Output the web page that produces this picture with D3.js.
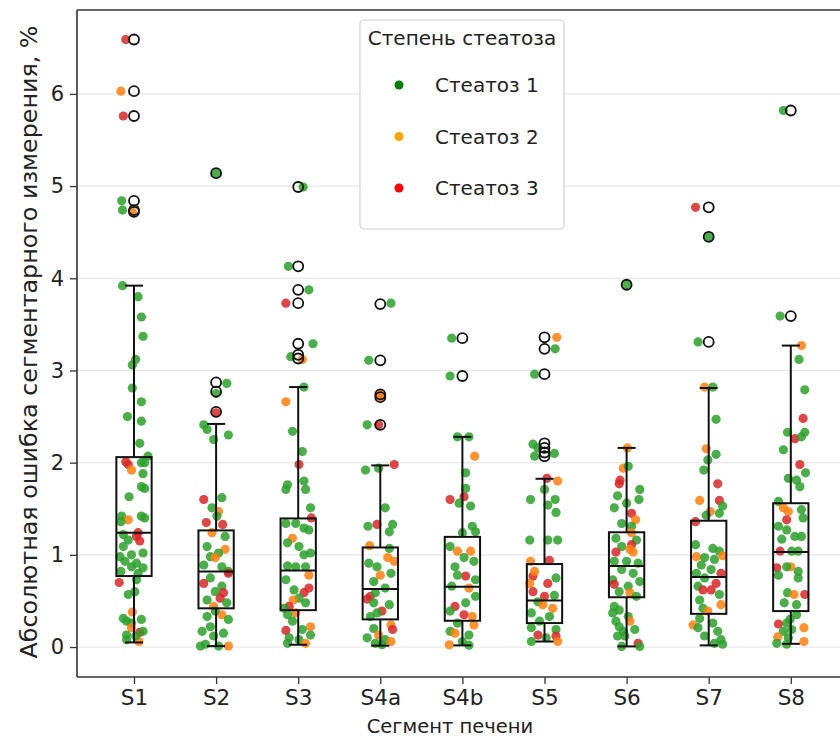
<!DOCTYPE html>
<html><head><meta charset="utf-8">
<script src="https://cdn.jsdelivr.net/npm/d3@7"></script>
<style>
html,body{margin:0;padding:0;background:#fff;}
svg text{font-family:"DejaVu Sans",sans-serif;fill:#222;}
</style></head>
<body><svg id="chart" width="840" height="740"></svg>
<script>
// ---------- DATA ----------
const segments = ["S1","S2","S3","S4a","S4b","S5","S6","S7","S8"];
const grades = ["Стеатоз 1","Стеатоз 2","Стеатоз 3"];
const yTicks = [0,1,2,3,4,5,6];

const q1      = [0.77,0.42,0.40,0.30,0.285,0.26,0.54,0.36,0.39];
const medians = [1.24,0.82,0.83,0.63,0.655,0.505,0.88,0.76,1.03];
const q3      = [2.06,1.265,1.395,1.08,1.195,0.90,1.245,1.37,1.56];
const whiskLo = [0.05,0.01,0.025,0.015,0.018,0.06,0.007,0.018,0.035];
const whiskHi = [3.92,2.42,2.82,1.97,2.28,1.825,2.16,2.81,3.27];

const outliers = [
  [6.59,6.03,5.76,4.84,4.74,4.72],
  [5.14,2.87,2.77,2.55],
  [4.99,4.13,3.875,3.73,3.29,3.17,3.13],
  [3.72,3.11,2.74,2.71,2.41],
  [3.35,2.94],
  [3.36,3.235,2.96,2.21,2.16,2.11,2.07],
  [3.93],
  [4.77,4.45,3.31],
  [5.82,3.59]
];

// points: [value, jitter (fraction of category step), steatosis grade]
const pointsS1 = [[6.59,-0.10,3],[6.03,-0.16,2],[5.76,-0.13,3],[4.84,-0.15,1],[4.74,-0.14,1],[4.72,-0.02,2],
 [3.92,-0.14,1],[3.80,0.05,1],[3.58,0.09,1],[3.37,0.11,1],[3.12,0.02,1],[3.06,-0.02,1],[2.81,-0.02,1],[2.66,0.09,1],
 [2.50,-0.08,1],[2.45,0.09,1],[2.21,0.07,1],[2.07,0.17,1],[2.01,-0.10,3],[1.98,-0.07,3],[1.92,-0.03,2],[2.00,0.09,1],
 [2.00,0.13,1],[1.88,0.11,1],[1.74,0.09,1],[1.72,0.13,1],[1.63,-0.06,1],[1.42,-0.15,1],[1.42,0.09,1],[1.40,0.13,1],
 [1.38,-0.07,2],[1.36,-0.16,1],[1.24,0.05,3],[1.20,0.03,3],[1.15,0.07,3],[1.22,-0.13,1],[1.16,-0.07,1],[1.09,-0.13,1],
 [1.02,0.11,1],[1.00,-0.03,1],[0.98,-0.17,1],[0.93,-0.11,1],[0.91,0.03,1],[0.87,-0.03,1],[0.86,0.11,1],[0.82,-0.16,1],
 [0.80,0.05,1],[0.70,-0.18,3],[0.73,0.03,1],[0.60,0.01,1],[0.57,-0.07,1],[0.38,-0.02,2],[0.31,-0.13,1],[0.30,0.09,1],
 [0.28,-0.09,1],[0.26,-0.03,1],[0.21,-0.03,2],[0.16,0.07,3],[0.17,0.11,1],[0.13,-0.09,1],[0.06,0.06,2],[0.08,-0.09,1],[0.12,0.02,1]];
const pointsS2 = [[5.14,0,1],[2.86,0.13,1],[2.75,0,1],[2.54,0,3],[2.41,-0.15,1],[2.36,-0.11,1],[2.30,0.15,1],[2.25,-0.03,1],
 [1.60,-0.15,3],[1.62,0.07,1],[1.51,-0.05,1],[1.47,0.03,2],[1.42,0.01,1],[1.35,-0.12,3],[1.33,0.08,3],[1.24,-0.05,2],
 [1.20,0.11,1],[1.09,-0.11,1],[1.06,0.11,2],[1.02,0.03,1],[0.98,-0.07,1],[0.97,-0.01,2],[0.89,-0.15,1],[0.87,0.07,1],
 [0.82,0.15,1],[0.80,0.15,3],[0.75,-0.07,1],[0.69,-0.15,3],[0.66,0.07,1],[0.60,-0.01,1],[0.59,0.09,3],[0.53,0.05,3],
 [0.51,-0.11,1],[0.48,0.13,1],[0.44,-0.03,2],[0.35,0.07,2],[0.39,-0.01,1],[0.33,-0.11,1],[0.30,0.15,1],[0.22,-0.07,1],
 [0.17,-0.17,1],[0.15,0.09,1],[0.12,-0.03,1],[0.03,-0.13,1],[0.01,0.03,1],[0.01,0.15,2],[0.01,-0.19,1]];
const pointsS3 = [[4.99,0.06,1],[4.13,-0.12,1],[3.875,0.13,1],[3.73,-0.15,3],[3.29,0.18,1],[3.15,-0.09,1],[3.12,0.05,2],
 [2.82,0.07,1],[2.66,-0.15,2],[2.34,-0.07,1],[2.12,0.05,1],[1.98,0.01,3],[1.76,-0.13,1],[1.71,-0.15,1],[1.80,0.07,1],
 [1.71,0.09,1],[1.51,0.15,1],[1.40,0.16,3],[1.34,-0.15,1],[1.34,-0.03,1],[1.29,0.07,1],[1.27,0.13,1],[1.18,-0.07,2],
 [1.13,-0.13,1],[1.09,0.01,1],[1.00,0.07,1],[1.02,0.15,1],[0.88,-0.13,1],[0.87,-0.03,1],[0.87,0.09,1],[0.78,0.13,2],
 [0.73,-0.15,1],[0.64,0.13,3],[0.59,0.07,3],[0.62,-0.05,1],[0.53,0.01,1],[0.51,-0.06,2],[0.44,-0.11,3],[0.48,0.09,1],
 [0.42,-0.17,1],[0.37,-0.03,2],[0.35,-0.13,1],[0.28,-0.07,1],[0.22,0.15,2],[0.18,-0.15,3],[0.19,0.05,1],[0.13,0.15,1],
 [0.10,-0.11,1],[0.08,0.01,1],[0.04,-0.13,1],[0.04,0.09,2]];
const pointsS4a = [[3.73,0.13,1],[3.11,-0.14,1],[2.74,0,2],[2.71,0,2],[2.41,-0.16,1],[2.41,-0.02,3],[1.98,0.17,3],
 [1.92,-0.18,1],[1.94,-0.02,1],[1.51,0.06,1],[1.33,-0.04,3],[1.31,-0.15,1],[1.33,0.15,1],[1.25,0.11,1],[1.10,-0.13,2],
 [1.07,0.11,1],[0.97,0.09,2],[0.93,0.17,2],[0.91,-0.14,1],[0.87,-0.04,1],[0.78,0,2],[0.80,0.13,1],[0.71,-0.08,1],
 [0.64,0.06,1],[0.55,-0.12,3],[0.52,-0.16,3],[0.59,-0.06,1],[0.48,-0.08,1],[0.39,0.02,3],[0.46,0.11,1],[0.37,-0.04,1],
 [0.33,-0.12,1],[0.24,0.13,2],[0.19,0.15,3],[0.20,-0.08,1],[0.13,-0.02,2],[0.10,-0.16,1],[0.08,0.06,1],[0.06,0.13,2],
 [0.04,-0.06,1],[0.025,0.02,1]];
const pointsS4b = [[3.35,-0.13,1],[2.94,-0.15,1],[2.28,-0.06,1],[2.28,0.08,1],[2.07,0.15,2],[1.89,0.04,1],[1.72,0.04,1],
 [1.60,-0.15,3],[1.63,0.02,3],[1.56,-0.04,1],[1.53,0.10,1],[1.31,0.12,1],[1.24,0,1],[1.25,0.16,1],[1.09,-0.15,1],
 [1.04,-0.06,2],[1.04,0.10,2],[0.97,0.02,1],[0.93,0.14,1],[0.87,-0.09,1],[0.77,0.04,3],[0.78,-0.06,1],[0.73,0.16,1],
 [0.66,-0.13,1],[0.64,0.08,2],[0.55,0.16,1],[0.44,-0.09,3],[0.48,0.04,1],[0.35,0.02,3],[0.33,0.12,2],[0.39,-0.15,1],
 [0.26,-0.06,1],[0.24,0.14,2],[0.17,-0.15,1],[0.15,-0.09,2],[0.13,0.08,1],[0.06,0,1],[0.025,-0.16,2],[0.02,0.08,1]];
const pointsS5 = [[3.36,0.15,2],[3.235,0.13,1],[2.96,-0.12,1],[2.20,-0.14,1],[2.16,-0.08,1],[2.10,0.12,1],[2.07,-0.12,1],
 [1.83,0.03,3],[1.80,0.16,2],[1.71,0,1],[1.60,-0.17,1],[1.60,0.13,1],[1.46,0.14,1],[1.54,0.04,1],[1.16,-0.18,1],
 [1.16,0.04,1],[1.16,0.16,1],[0.93,-0.17,2],[0.94,0.06,3],[0.77,-0.14,3],[0.82,-0.12,2],[0.75,0.14,1],[0.69,0.04,3],
 [0.69,-0.18,2],[0.60,-0.14,3],[0.55,0,3],[0.56,0.12,1],[0.49,-0.08,1],[0.46,-0.02,2],[0.42,0.10,2],[0.37,-0.16,1],
 [0.33,0.06,1],[0.28,-0.06,1],[0.21,-0.16,1],[0.19,0.14,1],[0.13,-0.08,3],[0.12,0.14,3],[0.10,0.02,1],[0.06,0.16,2],
 [0.06,-0.16,1]];
const pointsS6 = [[3.93,0,1],[2.16,0.01,2],[1.94,-0.04,2],[1.96,0.02,1],[1.81,-0.08,3],[1.77,-0.09,3],[1.71,0.16,1],
 [1.64,-0.11,1],[1.60,0.15,1],[1.56,0,1],[1.51,-0.15,1],[1.45,0.06,3],[1.38,0.11,2],[1.34,-0.06,1],[1.31,0.06,1],
 [1.24,0.06,2],[1.18,-0.13,1],[1.16,0.12,1],[1.11,0.06,3],[1.09,-0.06,1],[1.06,0.04,2],[1.03,-0.13,3],[1.03,0.08,2],
 [0.93,-0.15,1],[0.93,0,1],[0.91,0.14,1],[0.84,-0.06,1],[0.80,0.08,1],[0.73,-0.17,1],[0.71,0.16,1],[0.68,-0.15,3],
 [0.66,0.02,1],[0.60,-0.09,1],[0.59,0.04,2],[0.55,0.12,1],[0.44,-0.15,1],[0.40,-0.09,1],[0.37,-0.17,1],[0.33,0.02,1],
 [0.28,-0.13,1],[0.28,0.04,2],[0.22,-0.09,1],[0.19,0.10,1],[0.17,-0.04,1],[0.12,-0.11,1],[0.12,-0.02,1],[0.04,0.14,3],
 [0.007,-0.06,1],[0.007,0.16,1]];
const pointsS7 = [[4.77,-0.16,3],[4.45,0,1],[3.31,-0.13,1],[2.82,-0.05,2],[2.82,0.05,1],[2.47,0.09,1],[2.15,-0.03,2],
 [2.09,0.09,1],[2.03,-0.01,1],[1.92,-0.06,1],[1.77,0.11,3],[1.59,-0.11,2],[1.59,0.13,3],[1.53,0.17,1],[1.45,0.13,1],
 [1.47,0.02,2],[1.43,-0.03,1],[1.36,-0.16,3],[1.11,-0.16,1],[1.07,0.05,1],[1.04,0.13,1],[0.98,-0.15,2],[0.99,0.17,2],
 [0.97,-0.05,1],[0.95,0.07,1],[0.89,-0.09,1],[0.84,0.03,1],[0.80,-0.15,1],[0.80,0.15,3],[0.75,-0.05,1],[0.69,0.09,3],
 [0.66,-0.13,1],[0.62,-0.07,3],[0.62,0.03,3],[0.57,0.13,1],[0.51,-0.11,1],[0.46,0.15,2],[0.42,-0.07,1],[0.39,-0.01,2],
 [0.31,-0.11,1],[0.24,-0.19,2],[0.26,0.05,1],[0.21,-0.13,1],[0.17,0.11,1],[0.12,-0.05,1],[0.08,0.15,1],[0.04,0.07,1],
 [0.03,0.17,1]];
const pointsS8 = [[5.82,-0.09,1],[3.59,-0.13,1],[3.27,0.13,2],[3.12,0.10,1],[2.79,0.17,1],[2.48,0.15,3],[2.33,-0.04,1],
 [2.33,0.17,1],[2.26,0.05,3],[2.28,0.13,1],[2.14,-0.09,1],[1.98,0.11,3],[1.89,0.18,1],[1.83,-0.03,1],[1.81,0.07,1],
 [1.74,0.11,1],[1.58,-0.15,1],[1.51,-0.09,2],[1.47,-0.03,2],[1.49,0.13,1],[1.38,-0.05,3],[1.40,0.15,1],[1.31,-0.15,1],
 [1.27,-0.05,1],[1.20,0.05,1],[1.20,0.13,1],[1.17,-0.11,1],[1.04,0.01,1],[1.04,-0.13,3],[1.04,0.09,1],[0.86,-0.17,3],
 [0.87,0,2],[0.87,-0.05,1],[0.82,0.09,1],[0.75,0.09,1],[0.78,-0.15,1],[0.59,-0.04,1],[0.57,0.04,2],[0.57,0.17,3],
 [0.48,-0.08,1],[0.46,0.07,1],[0.35,0.07,1],[0.30,-0.01,1],[0.25,-0.15,3],[0.26,-0.05,1],[0.21,0.16,2],[0.19,0.01,1],
 [0.17,-0.09,1],[0.11,-0.16,2],[0.10,-0.03,1],[0.06,0.16,2],[0.04,-0.17,1],[0.03,-0.05,1]];
const pointsBySegment = [pointsS1,pointsS2,pointsS3,pointsS4a,pointsS4b,pointsS5,pointsS6,pointsS7,pointsS8];

// ---------- STYLE ----------
const pointColors = {1:"#2ca02c",2:"#ff7f0e",3:"#d62728"};
const legendColors = ["#008000","#ffa500","#ff0000"];

// ---------- DRAW ----------
const svg = d3.select("#chart");
const plot = {left:77, right:848, top:10, bottom:677};

const x = d3.scalePoint().domain(segments).range([134, 790.8]);
const step = x.step();
const y = d3.scaleLinear().domain([-0.325, 6.91]).range([plot.bottom, plot.top]);

// grid
svg.append("g").selectAll("line").data(yTicks).join("line")
  .attr("x1", plot.left).attr("x2", plot.right)
  .attr("y1", d=>y(d)).attr("y2", d=>y(d))
  .attr("stroke","#e8e8e8").attr("stroke-width",1.2);

// points
const allPts = [];
pointsBySegment.forEach((arr,i)=>arr.forEach(p=>allPts.push({seg:segments[i],v:p[0],j:p[1],g:p[2]})));
svg.append("g").selectAll("circle").data(allPts).join("circle")
  .attr("cx", d=>x(d.seg)+d.j*step)
  .attr("cy", d=>y(d.v))
  .attr("r", 4.6)
  .attr("fill", d=>pointColors[d.g])
  .attr("fill-opacity", 0.85);

// boxes
const boxW = 0.43*step, capW = 0.22*step;
const bx = svg.append("g").attr("stroke","#111").attr("stroke-width",2).attr("fill","none");
segments.forEach((s,i)=>{
  const cx = x(s);
  bx.append("line").attr("x1",cx).attr("x2",cx).attr("y1",y(q3[i])).attr("y2",y(whiskHi[i]));
  bx.append("line").attr("x1",cx).attr("x2",cx).attr("y1",y(q1[i])).attr("y2",y(whiskLo[i]));
  bx.append("line").attr("x1",cx-capW/2).attr("x2",cx+capW/2).attr("y1",y(whiskHi[i])).attr("y2",y(whiskHi[i]));
  bx.append("line").attr("x1",cx-capW/2).attr("x2",cx+capW/2).attr("y1",y(whiskLo[i])).attr("y2",y(whiskLo[i]));
  bx.append("rect").attr("x",cx-boxW/2).attr("width",boxW).attr("y",y(q3[i])).attr("height",y(q1[i])-y(q3[i]));
  bx.append("line").attr("x1",cx-boxW/2).attr("x2",cx+boxW/2).attr("y1",y(medians[i])).attr("y2",y(medians[i]));
  bx.selectAll(null).data(outliers[i]).join("circle")
    .attr("cx",cx).attr("cy",d=>y(d)).attr("r",5).attr("stroke-width",1.8);
});

// axes
const yAxis = d3.axisLeft(y).tickValues(yTicks).tickFormat(d3.format("d")).tickSize(7).tickPadding(6);
const gy = svg.append("g").attr("transform",`translate(${plot.left},0)`).call(yAxis);
gy.select(".domain").remove();
gy.selectAll("line").attr("stroke","#333").attr("stroke-width",1.3);
gy.selectAll("text").attr("font-size",21).attr("fill","#222");

const xAxis = d3.axisBottom(x).tickSize(7).tickPadding(6);
const gx = svg.append("g").attr("transform",`translate(0,${plot.bottom})`).call(xAxis);
gx.select(".domain").remove();
gx.selectAll("line").attr("stroke","#333").attr("stroke-width",1.3);
gx.selectAll("text").attr("font-size",21.5).attr("fill","#222");

// spines
const sp = svg.append("g").attr("stroke","#333").attr("stroke-width",1.6);
sp.append("line").attr("x1",plot.left).attr("x2",plot.left).attr("y1",plot.top).attr("y2",plot.bottom);
sp.append("line").attr("x1",plot.left).attr("x2",plot.right).attr("y1",plot.bottom).attr("y2",plot.bottom);
sp.append("line").attr("x1",plot.left).attr("x2",plot.right).attr("y1",plot.top).attr("y2",plot.top);

// labels
svg.append("text").attr("x",450).attr("y",733).attr("text-anchor","middle").attr("font-size",19.5)
  .text("Сегмент печени");
svg.append("text").attr("transform",`translate(37,342) rotate(-90)`)
  .attr("text-anchor","middle").attr("font-size",23.8)
  .text("Абсолютная ошибка сегментарного измерения, %");

// legend
const lg = svg.append("g");
lg.append("rect").attr("x",360).attr("y",20).attr("width",204).attr("height",209).attr("rx",4)
  .attr("fill","#fff").attr("fill-opacity",0.85).attr("stroke","#d0d0d0").attr("stroke-width",1.2);
lg.append("text").attr("x",462).attr("y",45).attr("text-anchor","middle").attr("font-size",20)
  .text("Степень стеатоза");
grades.forEach((g,i)=>{
  const yy = 85 + i*51.5;
  lg.append("circle").attr("cx",399).attr("cy",yy).attr("r",4.5).attr("fill",legendColors[i]);
  lg.append("text").attr("x",435).attr("y",yy+7).attr("font-size",20).text(g);
});
</script></body></html>
